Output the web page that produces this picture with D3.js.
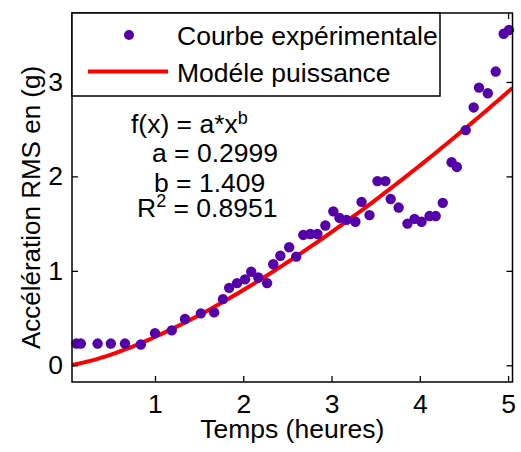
<!DOCTYPE html>
<html>
<head>
<meta charset="utf-8">
<script src="https://cdn.jsdelivr.net/npm/d3@7"></script>
<style>
  body { margin: 0; background: #fff; }
  text { font-family: "Liberation Sans", Arial, sans-serif; fill: #000; }
</style>
</head>
<body>
<div id="chart"></div>
<script>
//experimental points (time in hours, RMS acceleration in g)
var timeHours = [0.11, 0.16, 0.35, 0.50, 0.66, 0.84, 1.00, 1.19, 1.34, 1.52,
  1.67, 1.77, 1.84, 1.93, 2.02, 2.09, 2.17, 2.27, 2.34, 2.42,
  2.52, 2.60, 2.68, 2.76, 2.84, 2.93, 3.02, 3.09, 3.17, 3.27,
  3.34, 3.43, 3.52, 3.61, 3.67, 3.76, 3.86, 3.94, 4.02, 4.11,
  4.18, 4.26, 4.36, 4.42, 4.52, 4.61, 4.67, 4.77, 4.86, 4.95, 5.01];
var accelRMS = [0.23, 0.23, 0.23, 0.23, 0.23, 0.22, 0.34, 0.37, 0.49, 0.55,
  0.56, 0.70, 0.82, 0.87, 0.91, 0.99, 0.93, 0.87, 1.07, 1.16,
  1.25, 1.15, 1.38, 1.39, 1.39, 1.48, 1.63, 1.56, 1.54, 1.52,
  1.73, 1.59, 1.95, 1.95, 1.76, 1.67, 1.50, 1.55, 1.52, 1.58,
  1.58, 1.72, 2.15, 2.10, 2.49, 2.73, 2.94, 2.88, 3.11, 3.51, 3.55];

//power model parameters shown on the chart
var fitA = 0.2999;
var fitB = 1.409;

var xTicks = [1, 2, 3, 4, 5];
var yTicks = [0, 1, 2, 3];
var legendLabels = ["Courbe expérimentale", "Modéle puissance"];
var fitLines = ["a = 0.2999", "b = 1.409", "0.8951"];

var width = 521, height = 452;
var margin = { top: 13, right: 8.5, bottom: 70, left: 72 };
var innerWidth = width - margin.left - margin.right;
var innerHeight = height - margin.top - margin.bottom;

var svg = d3.select("#chart").append("svg")
  .attr("width", width)
  .attr("height", height);

var g = svg.append("g")
  .attr("transform", "translate(" + margin.left + "," + margin.top + ")");

var xScale = d3.scaleLinear().domain([0.06, 5.05]).range([0, innerWidth]);
var yScale = d3.scaleLinear().domain([-0.177, 3.73]).range([innerHeight, 0]);

//clip for the curve
svg.append("defs").append("clipPath").attr("id", "clip")
  .append("rect").attr("width", innerWidth).attr("height", innerHeight);

//fitted curve
var xs = d3.range(0, 121).map(function(i) {
  return xScale.domain()[0] + i * (xScale.domain()[1] - xScale.domain()[0]) / 120;
});
var line = d3.line()
  .x(function(d) { return xScale(d); })
  .y(function(d) { return yScale(fitA * Math.pow(d, fitB)); });

g.append("path")
  .datum(xs)
  .attr("clip-path", "url(#clip)")
  .attr("d", line)
  .attr("fill", "none")
  .attr("stroke", "#ff0000")
  .attr("stroke-width", 4);

//points
var points = timeHours.map(function(t, i) { return { t: t, v: accelRMS[i] }; });
g.selectAll(".dot")
  .data(points)
  .enter()
  .append("circle")
  .attr("class", "dot")
  .attr("cx", function(d) { return xScale(d.t); })
  .attr("cy", function(d) { return yScale(d.v); })
  .attr("r", 5.2)
  .attr("fill", "#5500aa");

//axes: inward ticks on all four sides
var tickLen = 6;
var fmt = d3.format("d");
g.append("g")
  .attr("transform", "translate(0," + innerHeight + ")")
  .call(d3.axisBottom(xScale).tickValues(xTicks).tickFormat(fmt).tickSizeInner(-tickLen).tickSizeOuter(0).tickPadding(12));
g.append("g")
  .call(d3.axisTop(xScale).tickValues(xTicks).tickSizeInner(-tickLen).tickSizeOuter(0).tickFormat(""));
g.append("g")
  .call(d3.axisLeft(yScale).tickValues(yTicks).tickFormat(fmt).tickSizeInner(-tickLen).tickSizeOuter(0).tickPadding(9));
g.append("g")
  .attr("transform", "translate(" + innerWidth + ",0)")
  .call(d3.axisRight(yScale).tickValues(yTicks).tickSizeInner(-tickLen).tickSizeOuter(0).tickFormat(""));

g.selectAll(".domain").remove();
g.selectAll(".tick line").attr("stroke", "#000").attr("stroke-width", 1.3);
g.selectAll(".tick text")
  .style("font-family", "'Liberation Sans', Arial, sans-serif")
  .style("font-size", "26.5px")
  .attr("fill", "#000");

//box
g.append("rect")
  .attr("width", innerWidth)
  .attr("height", innerHeight)
  .attr("fill", "none")
  .attr("stroke", "#000")
  .attr("stroke-width", 1.5);

//axis titles
svg.append("text")
  .attr("x", margin.left + innerWidth / 2)
  .attr("y", 438)
  .attr("text-anchor", "middle")
  .style("font-size", "26.5px")
  .text("Temps (heures)");

svg.append("text")
  .attr("transform", "translate(40," + (margin.top + innerHeight / 2 + 10) + ") rotate(-90)")
  .attr("text-anchor", "middle")
  .style("font-size", "26px")
  .text("Accélération RMS en (g)");

//legend
var legend = g.append("g");
legend.append("rect")
  .attr("x", 0).attr("y", 0)
  .attr("width", 368).attr("height", 83)
  .attr("fill", "#fff")
  .attr("stroke", "#000")
  .attr("stroke-width", 1.5);
legend.append("circle")
  .attr("cx", 57).attr("cy", 22).attr("r", 5)
  .attr("fill", "#5500aa");
legend.append("line")
  .attr("x1", 16).attr("x2", 96).attr("y1", 58.5).attr("y2", 58.5)
  .attr("stroke", "#ff0000").attr("stroke-width", 4);
legend.selectAll(".leglabel")
  .data(legendLabels)
  .enter()
  .append("text")
  .attr("class", "leglabel")
  .attr("x", 105)
  .attr("y", function(d, i) { return 32 + i * 36.5; })
  .style("font-size", "26.5px")
  .text(function(d) { return d; });

//fit annotation
var eq = svg.append("text").attr("x", 131).attr("y", 133).style("font-size", "26.5px");
eq.append("tspan").text("f(x) = a*x");
eq.append("tspan").attr("dy", -9).style("font-size", "18px").text("b");

svg.append("text").attr("x", 152).attr("y", 162).style("font-size", "26.5px").text(fitLines[0]);
svg.append("text").attr("x", 154).attr("y", 192).style("font-size", "26.5px").text(fitLines[1]);

var r2 = svg.append("text").attr("x", 137).attr("y", 217).style("font-size", "26.5px");
r2.append("tspan").text("R");
r2.append("tspan").attr("dy", -10).style("font-size", "18px").text("2");
r2.append("tspan").attr("dy", 10).text(" = " + fitLines[2]);
</script>
</body>
</html>
